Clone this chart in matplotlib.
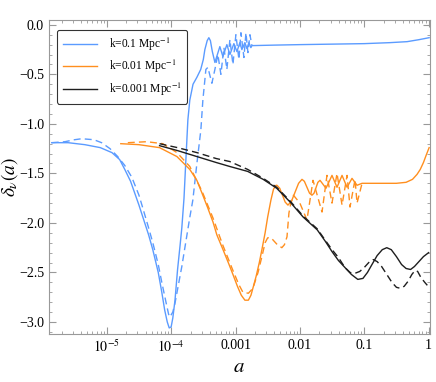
import numpy as np
import matplotlib

matplotlib.use("Agg")
import matplotlib.pyplot as plt
from matplotlib.ticker import FixedLocator, FixedFormatter, NullFormatter, FuncFormatter

# ─────────────────────────────────────────────
# DATA  (x stored as log10 a)
# ─────────────────────────────────────────────
# k = 0.1 Mpc^-1
k1_solid_log = [-5.855, -5.6, -5.34, -5.1, -4.92, -4.8, -4.72, -4.63, -4.565, -4.5,
                -4.425, -4.35, -4.285, -4.2, -4.145, -4.1, -4.06, -4.03, -4.0, -3.974,
                -3.94, -3.9, -3.86, -3.834, -3.8, -3.77, -3.74, -3.71, -3.66, -3.6,
                -3.54, -3.5, -3.476, -3.44, -3.414, -3.39, -3.36, -3.32,
                -3.243, -3.196, -3.134, -3.087, -3.025, -2.978, -2.932, -2.901, -2.854,
                -2.823, -2.792, -2.761, -2.745, -2.4, -2.0, -1.5, -1.0, -0.6, -0.334,
                -0.15, 0.008]
k1_solid_val = [-1.19, -1.19, -1.21, -1.24, -1.29, -1.36, -1.46, -1.58, -1.70, -1.82,
                -1.97, -2.12, -2.27, -2.50, -2.70, -2.88, -3.00, -3.06, -3.05, -2.96,
                -2.78, -2.47, -2.22, -2.05, -1.75, -1.35, -0.96, -0.76, -0.60, -0.53,
                -0.45, -0.35, -0.25, -0.16, -0.13, -0.16, -0.27, -0.38,
                -0.22, -0.32, -0.20, -0.30, -0.19, -0.27, -0.18, -0.25, -0.18,
                -0.24, -0.18, -0.23, -0.21, -0.205, -0.20, -0.195, -0.19, -0.18, -0.17,
                -0.15, -0.13]
k1_dash_log = [-5.855, -5.65, -5.5, -5.39, -5.2, -5.08, -4.95, -4.83, -4.72, -4.61,
               -4.5, -4.44, -4.35, -4.285, -4.2, -4.145, -4.08, -4.04, -4.02, -3.974,
               -3.94, -3.834, -3.709, -3.663, -3.6, -3.538, -3.507, -3.46,
               -3.429, -3.367, -3.32, -3.274, -3.227, -3.18, -3.134, -3.087, -3.04,
               -2.994, -2.947, -2.916, -2.869, -2.838, -2.807, -2.776, -2.745]
k1_dash_val = [-1.19, -1.18, -1.16, -1.15, -1.16, -1.19, -1.25, -1.33, -1.42, -1.54,
               -1.72, -1.85, -2.05, -2.20, -2.42, -2.60, -2.80, -2.92, -2.95, -2.90,
               -2.81, -2.44, -1.94, -1.77, -1.40, -1.06, -0.76, -0.45,
               -0.43, -0.59, -0.45, -0.30, -0.50, -0.23, -0.45, -0.15, -0.40,
               -0.10, -0.35, -0.08, -0.33, -0.08, -0.28, -0.10, -0.21]

# k = 0.01 Mpc^-1
k2_solid_log = [-4.782, -4.5, -4.18, -3.91, -3.71, -3.6, -3.52, -3.43, -3.35, -3.29,
                -3.2, -3.1, -3.04, -2.97, -2.91, -2.854, -2.80, -2.76, -2.73, -2.68,
                -2.63, -2.59, -2.54, -2.50, -2.45, -2.41, -2.37, -2.356, -2.313,
                -2.228, -2.185, -2.13, -2.02, -1.967, -1.93, -1.85, -1.812, -1.78,
                -1.72, -1.687, -1.594, -1.501, -1.423, -1.345, -1.267, -1.19, -1.112,
                -1.034, -0.5, -0.35, -0.25, -0.18, -0.13, -0.08, -0.04, 0.008]
k2_solid_val = [-1.20, -1.21, -1.24, -1.33, -1.46, -1.57, -1.70, -1.85, -1.99, -2.12,
                -2.26, -2.42, -2.52, -2.64, -2.73, -2.78, -2.78, -2.73, -2.66, -2.54,
                -2.40, -2.27, -2.10, -1.94, -1.77, -1.66, -1.62, -1.62, -1.65,
                -1.79, -1.82, -1.78, -1.60, -1.56, -1.58, -1.70, -1.72, -1.70,
                -1.59, -1.57, -1.65, -1.52, -1.64, -1.52, -1.64, -1.55, -1.62,
                -1.60, -1.60, -1.59, -1.56, -1.51, -1.46, -1.39, -1.32, -1.24]
k2_dash_log = [-4.673, -4.38, -4.13, -3.91, -3.71, -3.52, -3.35, -3.2, -3.04, -2.95,
               -2.885, -2.80, -2.73, -2.65, -2.59, -2.54, -2.50, -2.45, -2.42, -2.35,
               -2.28, -2.24, -2.20, -2.17, -2.14, -2.10, -2.0, -1.89, -1.796, -1.656,
               -1.579, -1.501, -1.423, -1.345, -1.267, -1.221, -1.143, -1.112, -1.034]
k2_dash_val = [-1.19, -1.18, -1.20, -1.29, -1.43, -1.68, -1.95, -2.22, -2.48, -2.62,
               -2.70, -2.71, -2.66, -2.50, -2.34, -2.20, -2.15, -2.15, -2.17, -2.22,
               -2.25, -2.22, -2.14, -1.90, -1.80, -1.72, -1.80, -1.97, -1.57, -1.89,
               -1.52, -1.80, -1.50, -1.82, -1.52, -1.84, -1.56, -1.80, -1.60]

# k = 0.001 Mpc^-1
k3_solid_log = [-4.18, -3.9, -3.6, -3.3, -3.09, -2.81, -2.57, -2.36, -2.15, -1.95,
                -1.73, -1.6, -1.5, -1.4, -1.30, -1.20, -1.10, -1.02, -0.95, -0.88,
                -0.80, -0.72, -0.65, -0.58, -0.50, -0.42, -0.35, -0.28, -0.22, -0.15,
                -0.08, 0.0]
k3_solid_val = [-1.22, -1.27, -1.33, -1.39, -1.43, -1.48, -1.56, -1.65, -1.79, -1.94,
                -2.07, -2.19, -2.29, -2.38, -2.45, -2.52, -2.57, -2.56, -2.50, -2.42,
                -2.33, -2.27, -2.25, -2.27, -2.34, -2.42, -2.46, -2.47, -2.44, -2.39,
                -2.34, -2.30]
k3_dash_log = [-4.18, -3.9, -3.6, -3.3, -3.09, -2.81, -2.57, -2.36, -2.15, -1.95,
               -1.73, -1.6, -1.5, -1.40, -1.30, -1.22, -1.15, -1.07, -1.00, -0.93,
               -0.86, -0.80, -0.73, -0.65, -0.57, -0.50, -0.44, -0.38, -0.32, -0.26,
               -0.21, -0.17, -0.12, -0.06, -0.02]
k3_dash_val = [-1.20, -1.24, -1.29, -1.35, -1.38, -1.46, -1.55, -1.64, -1.78, -1.93,
               -2.06, -2.18, -2.27, -2.35, -2.45, -2.50, -2.51, -2.49, -2.45, -2.40,
               -2.37, -2.39, -2.44, -2.52, -2.60, -2.65, -2.66, -2.64, -2.59, -2.52,
               -2.48, -2.49, -2.55, -2.60, -2.63]

labels = [r"k=0.1 Mpc$^{-1}$", r"k=0.01 Mpc$^{-1}$", r"k=0.001 Mpc$^{-1}$"]
colors = ["#5b9bff", "#ff8f1f", "#1e1e1e"]

xtick_vals = [1e-5, 1e-4, 1e-3, 1e-2, 1e-1, 1]
xtick_labels = [r"$10^{-5}$", r"$10^{-4}$", "0.001", "0.01", "0.1", "1"]

# ─────────────────────────────────────────────
# PLOT
# ─────────────────────────────────────────────
plt.rcParams["font.family"] = "Liberation Serif"
plt.rcParams["mathtext.fontset"] = "stix"

fig = plt.figure(figsize=(4.36, 3.82), dpi=100)
ax = fig.add_axes([0.112, 0.126, 0.874, 0.822])

series = [
    (k1_solid_log, k1_solid_val, k1_dash_log, k1_dash_val),
    (k2_solid_log, k2_solid_val, k2_dash_log, k2_dash_val),
    (k3_solid_log, k3_solid_val, k3_dash_log, k3_dash_val),
]
for (sl, sv, dl, dv), c, lab in zip(series, colors, labels):
    ax.plot(10 ** np.array(sl), sv, color=c, lw=1.0, label=lab)
    ax.plot(10 ** np.array(dl), dv, color=c, lw=1.0, ls=(0, (5, 3)))

ax.set_xscale("log")
ax.set_xlim(10 ** -5.9, 10 ** 0.02)
ax.set_ylim(-3.12, 0.05)

ax.xaxis.set_major_locator(FixedLocator(xtick_vals))
ax.xaxis.set_major_formatter(FixedFormatter(xtick_labels))
ax.xaxis.set_minor_formatter(NullFormatter())
ax.set_yticks(np.arange(-3.0, 0.01, 0.5))
ax.set_yticks(np.arange(-3.1, 0.01, 0.1), minor=True)
ax.yaxis.set_major_formatter(FuncFormatter(lambda v, p: f"{v:.1f}".replace("-", "\u2212")))

for s in ax.spines.values():
    s.set_color("#999999")
    s.set_linewidth(0.8)
ax.tick_params(which="both", direction="in", top=True, right=True,
               color="#999999", labelsize=10)
ax.tick_params(which="major", length=5)
ax.tick_params(which="minor", length=2.5)

ax.set_xlabel(r"$a$", fontsize=15, labelpad=2)
ax.set_ylabel(r"$\delta_\nu(a)$", fontsize=14)
ax.yaxis.set_label_coords(-0.075, 0.5)

leg = ax.legend(loc="upper left", bbox_to_anchor=(0.021, 0.968), borderaxespad=0,
                fontsize=8.3, frameon=True, fancybox=True, edgecolor="black",
                handlelength=3.0, handletextpad=1.0, labelspacing=0.45, borderpad=0.5)
leg.get_frame().set_linewidth(0.8)

fig.savefig("out.png", dpi=100)
